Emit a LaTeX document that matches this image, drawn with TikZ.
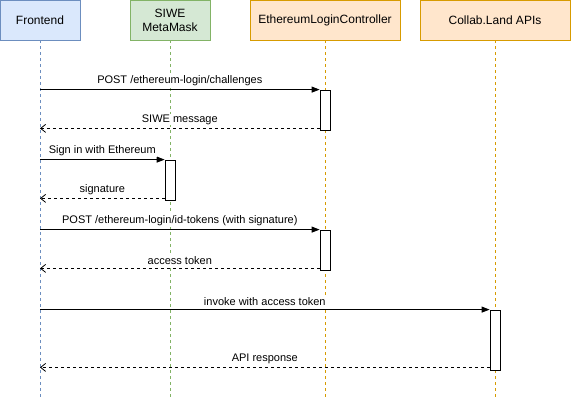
\documentclass[tikz,border=0pt]{standalone}
\usepackage{fontspec}
\setmainfont{Liberation Sans}
\usetikzlibrary{arrows.meta}
\definecolor{feFill}{HTML}{DAE8FC}
\definecolor{feLine}{HTML}{6C8EBF}
\definecolor{mmFill}{HTML}{D5E8D4}
\definecolor{mmLine}{HTML}{82B366}
\definecolor{ctFill}{HTML}{FFE6CC}
\definecolor{ctLine}{HTML}{D79B00}
\begin{document}
\begin{tikzpicture}[x=1pt,y=-1pt,line width=0.8pt,
	part/.style={draw,minimum height=40pt,inner sep=2pt,align=center,font=\fontsize{12}{14}\selectfont},
	life/.style={dashed,dash pattern=on 3pt off 3pt,line width=0.6pt},
	act/.style={draw,fill=white,minimum width=10pt,inner sep=0pt},
	msg/.style={-{Triangle[length=8pt,width=6pt]}},
	ret/.style={dashed,dash pattern=on 3pt off 3pt,-{Straight Barb[length=5pt,width=8pt]}},
	lbl/.style={anchor=south,fill=white,inner sep=1pt,yshift=2.5pt,font=\fontsize{11}{13}\selectfont}]
	\useasboundingbox (0,0) rectangle (571,401);
	% participants
	\node[part,fill=feFill,draw=feLine,minimum width=80pt] (fe) at (40,20) {Frontend};
	\node[part,fill=mmFill,draw=mmLine,minimum width=80pt] (mm) at (170,20) {SIWE\\MetaMask};
	\node[part,fill=ctFill,draw=ctLine,minimum width=150pt] (ct) at (325,20) {EthereumLoginController};
	\node[part,fill=ctFill,draw=ctLine,minimum width=150pt] (api) at (495,20) {Collab.Land APIs};
	% lifelines
	\draw[life,feLine] (fe.south) -- (fe.south |- 0,400);
	\draw[life,mmLine] (mm.south) -- (mm.south |- 0,400);
	\draw[life,ctLine] (ct.south) -- (ct.south |- 0,400);
	\draw[life,ctLine] (api.south) -- (api.south |- 0,400);
	% activations
	\node[act,minimum height=40pt] (a1) at (325,110) {};
	\node[act,minimum height=40pt] (a2) at (170,180) {};
	\node[act,minimum height=40pt] (a3) at (325,250) {};
	\node[act,minimum height=60pt] (a4) at (495,340) {};
	% messages
	\draw[msg] (fe |- a1.north west) -- (a1.north west) node[lbl,midway] {POST /ethereum-login/challenges};
	\draw[ret] ([yshift=2pt]a1.south west) -- ([yshift=2pt]fe |- a1.south west) node[lbl,midway] {SIWE message};
	\draw[msg] (fe |- a2.north west) -- (a2.north west) node[lbl,midway] {Sign in with Ethereum};
	\draw[ret] ([yshift=2pt]a2.south west) -- ([yshift=2pt]fe |- a2.south west) node[lbl,midway] {signature};
	\draw[msg] (fe |- a3.north west) -- (a3.north west) node[lbl,midway] {POST /ethereum-login/id-tokens (with signature)};
	\draw[ret] ([yshift=2pt]a3.south west) -- ([yshift=2pt]fe |- a3.south west) node[lbl,midway] {access token};
	\draw[msg] (fe |- a4.north west) -- (a4.north west) node[lbl,midway] {invoke with access token};
	\draw[ret] ([yshift=3pt]a4.south west) -- ([yshift=3pt]fe |- a4.south west) node[lbl,midway] {API response};
\end{tikzpicture}
\end{document}
